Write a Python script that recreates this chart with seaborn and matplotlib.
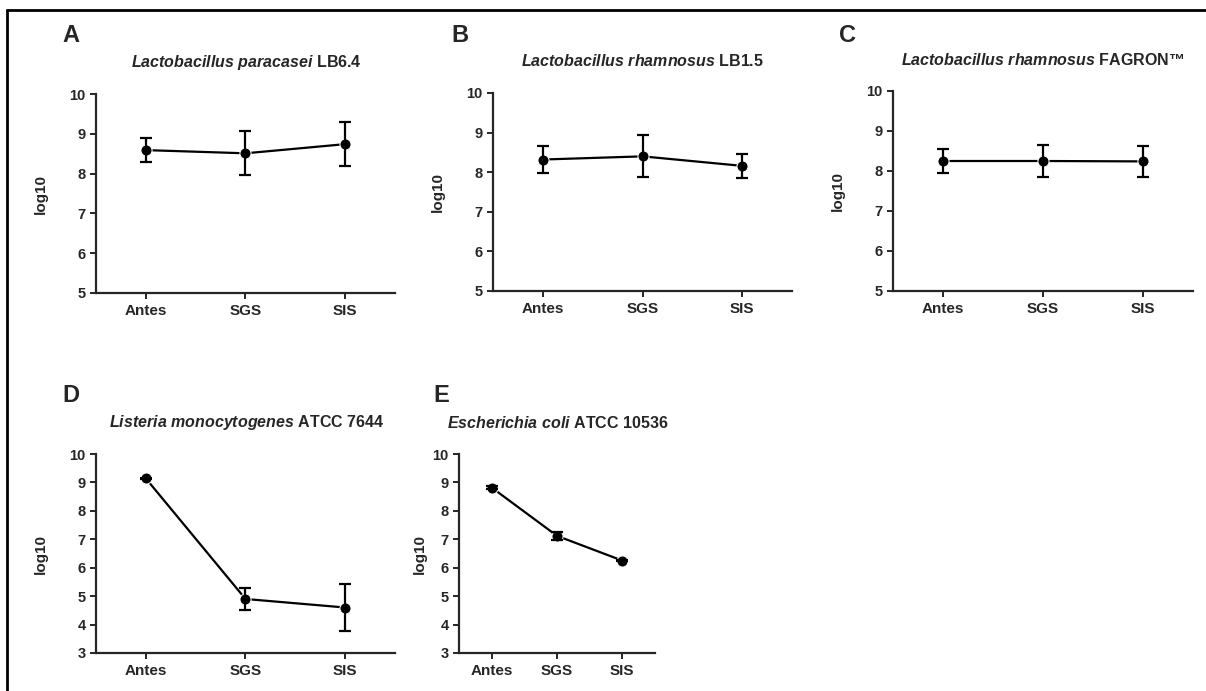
import matplotlib
matplotlib.use("Agg")
import matplotlib.pyplot as plt
import seaborn as sns

sns.set_style("ticks")
plt.rcParams["font.family"] = ["Liberation Sans", "DejaVu Sans"]
plt.rcParams["font.weight"] = "bold"
plt.rcParams["mathtext.fontset"] = "custom"
plt.rcParams["mathtext.it"] = "Liberation Sans:italic:bold"
plt.rcParams["mathtext.rm"] = "Liberation Sans:bold"

# Data (log10 counts, mean and SD)
stages = ["Antes", "SGS", "SIS"]

lp_mean = [8.59, 8.51, 8.74]
lp_sd = [0.30, 0.55, 0.55]

lr_mean = [8.32, 8.40, 8.16]
lr_sd = [0.33, 0.53, 0.30]

lf_mean = [8.25, 8.25, 8.24]
lf_sd = [0.31, 0.40, 0.38]

lm_mean = [9.14, 4.90, 4.60]
lm_sd = [0.03, 0.39, 0.81]

ec_mean = [8.82, 7.12, 6.25]
ec_sd = [0.04, 0.15, 0.03]

panels = [
    ("A", "Lactobacillus paracasei", " LB6.4", lp_mean, lp_sd, (5, 10)),
    ("B", "Lactobacillus rhamnosus", " LB1.5", lr_mean, lr_sd, (5, 10)),
    ("C", "Lactobacillus rhamnosus", " FAGRON\u2122", lf_mean, lf_sd, (5, 10)),
    ("D", "Listeria monocytogenes", " ATCC 7644", lm_mean, lm_sd, (3, 10)),
    ("E", "Escherichia coli", " ATCC 10536", ec_mean, ec_sd, (3, 10)),
]

W, H = 1206, 691
# axes boxes in pixels: left, top, width, height
boxes = [
    (96, 94, 299, 199),
    (493, 93, 299, 198),
    (893, 91, 300, 200),
    (96, 454, 299, 199),
    (459, 454, 196, 199),
]
label_gap = [48, 48, 48, 48, 32]
letters_px = [(62, 36), (451, 35), (839, 35), (62, 395), (433, 395)]
titles_px = [(246, 62), (642, 61), (1043, 60), (247, 423), (558, 423)]

fig = plt.figure(figsize=(W / 100, H / 100), dpi=100)

for (letter, genus, strain, mean, sd, ylim), box, gap, lp, tp in zip(
        panels, boxes, label_gap, letters_px, titles_px):
    l, t, w, h = box
    ax = fig.add_axes([l / W, 1 - (t + h) / H, w / W, h / H])
    df = {"stage": stages, "log10": mean}
    sns.lineplot(x="stage", y="log10", data=df, ax=ax, color="black",
                 linewidth=1.6, marker="o", markersize=8, sort=False)
    ax.errorbar(stages, mean, yerr=sd, fmt="none", ecolor="black",
                elinewidth=1.6, capsize=4, capthick=1.6)
    ax.set_xlim(-0.5, 2.5)
    ax.set_ylim(*ylim)
    ax.set_yticks(range(ylim[0], ylim[1] + 1))
    sns.despine(ax=ax)
    for s in ("left", "bottom"):
        ax.spines[s].set_linewidth(1.6)
    ax.tick_params(axis="both", width=1.4, length=4, labelsize=10.5)
    ax.tick_params(axis="x", labelsize=11, pad=4)
    for lab in ax.get_xticklabels() + ax.get_yticklabels():
        lab.set_fontweight("bold")
    ax.set_xlabel("")
    ax.set_ylabel("log10", fontsize=11, fontweight="bold")
    ax.yaxis.set_label_coords(-gap / w, 0.5)

    fig.text(lp[0] / W, 1 - lp[1] / H, letter, fontsize=17, fontweight="bold",
             ha="left", va="center")
    fig.text(tp[0] / W, 1 - tp[1] / H,
             r"$\it{" + genus.replace(" ", r"\ ") + r"}$" + strain,
             fontsize=11.5, fontweight="bold", ha="center", va="center")

# outer frame (left and top edges)
fig.add_artist(plt.Line2D([7 / W, 7 / W], [0, 1 - 10 / H], color="black", linewidth=2))
fig.add_artist(plt.Line2D([7 / W, 1], [1 - 10 / H, 1 - 10 / H], color="black", linewidth=2))

fig.savefig("out.png", dpi=100)
